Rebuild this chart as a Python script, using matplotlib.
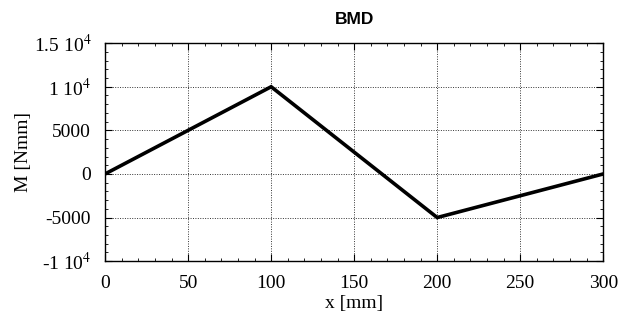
import matplotlib
matplotlib.use("Agg")
import matplotlib.pyplot as plt
from matplotlib.ticker import AutoMinorLocator

x_mm = [0, 100, 200, 300]
moment = [0, 10000, -5000, 0]
x_ticks = [0, 50, 100, 150, 200, 250, 300]
y_ticks = [-10000, -5000, 0, 5000, 10000, 15000]
y_tick_labels = [r"-1 10$^{4}$", "-5000", "0", "5000", r"1 10$^{4}$", r"1.5 10$^{4}$"]

plt.rcParams['font.family'] = ['Liberation Serif', 'DejaVu Serif']
plt.rcParams['mathtext.fontset'] = 'stix'
fs = 14

fig = plt.figure(figsize=(6.33, 3.22), dpi=100)
ax = fig.add_axes([0.166, 0.189, 0.787, 0.677])
ax.plot(x_mm, moment, color='black', lw=2.6, solid_joinstyle='miter')
ax.set_xlim(0, 300)
ax.set_ylim(-10000, 15000)
ax.set_xticks(x_ticks)
ax.set_xticklabels([str(v) for v in x_ticks], fontsize=fs)
ax.set_yticks(y_ticks)
ax.set_yticklabels(y_tick_labels, fontsize=fs)
ax.xaxis.set_minor_locator(AutoMinorLocator(5))
ax.yaxis.set_minor_locator(AutoMinorLocator(5))
ax.tick_params(which='both', direction='in', top=True, right=True, color='black')
ax.tick_params(which='major', length=5, width=0.8)
ax.tick_params(axis='x', which='major', pad=10)
ax.tick_params(axis='y', which='major', pad=10)
ax.tick_params(which='minor', length=2.5, width=0.6)
ax.grid(True, which='major', linestyle=(0, (1, 1.5)), color='#333333', lw=0.7)
for s in ax.spines.values():
    s.set_linewidth(1.0)
    s.set_color('black')
ax.set_xlabel("x [mm]", fontsize=fs, labelpad=2)
ax.set_ylabel("M [Nmm]", fontsize=fs, labelpad=1.5)
ax.set_title("BMD", family=['Liberation Sans', 'DejaVu Sans'], fontweight='bold', fontsize=12.5, pad=14)
fig.savefig("out.png", dpi=100)
